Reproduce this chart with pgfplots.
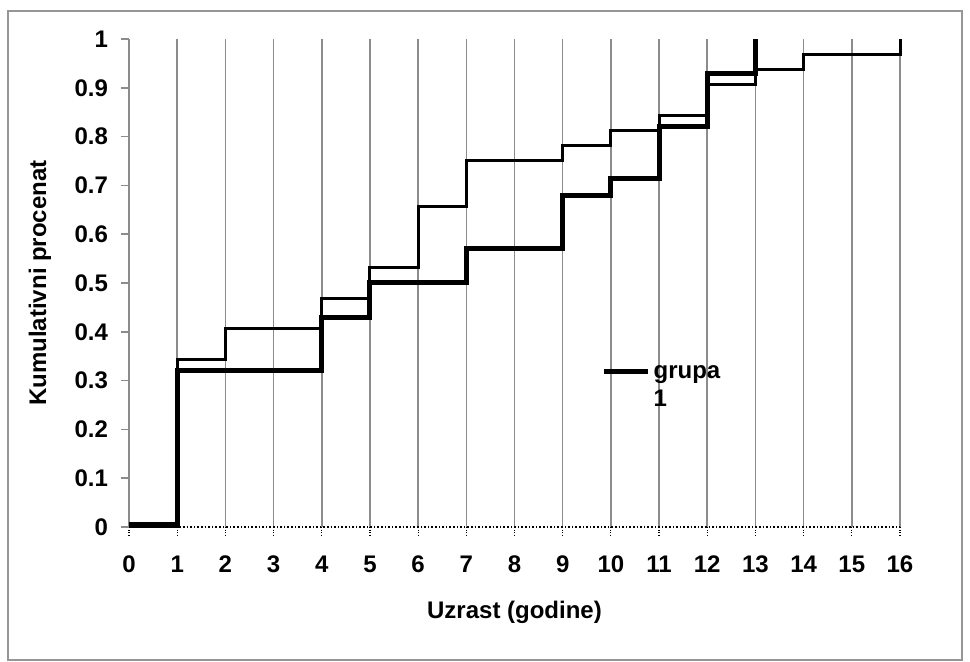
\documentclass[border=0pt]{standalone}
\usepackage{fontspec}
\setmainfont{Liberation Sans}
\usepackage{pgfplots}
\pgfplotsset{compat=1.18}
\usetikzlibrary{calc}
\definecolor{gridgray}{RGB}{140,140,140}
\definecolor{framegray}{RGB}{150,150,150}

\begin{document}
\begin{tikzpicture}
\begin{axis}[
name=ax,
scale only axis,
width=385.5pt, height=244pt,
xmin=0, xmax=16, ymin=0, ymax=1,
xtick={0,...,16}, ytick={0,0.1,...,1},
axis x line=bottom, axis y line=left,
axis line style={-},
x axis line style={black, densely dotted, line width=0.8pt},
y axis line style={gridgray, line width=0.8pt},
tick align=outside, major tick length=4pt,
xtick style={black, densely dotted, line width=0.6pt},
ytick style={gridgray, line width=0.8pt},
xmajorgrids, major grid style={gridgray, line width=0.8pt},
clip=false,
/pgf/number format/assume math mode=true,
ticklabel style={font=\fontsize{12}{14}\selectfont\bfseries},
xticklabel style={yshift=-7pt},
yticklabel style={xshift=-3pt},
label style={font=\fontsize{12}{14}\selectfont\bfseries},
xlabel={Uzrast (godine)},
ylabel={Kumulativni procenat},
xlabel style={at={(axis description cs:0.5,-0.174)}, anchor=center},
ylabel style={at={(axis description cs:-0.1154,0.5)}, anchor=center, rotate=0},
legend style={draw=none, fill=none, at={(axis cs:9.8,0.348)}, anchor=north west,
  font=\fontsize{12}{13}\selectfont\bfseries, row sep=0pt, inner sep=0pt,
  nodes={inner sep=1.5pt}},
legend cell align=left,
legend image code/.code={\draw[#1] (0pt,0pt) -- (22pt,0pt);},
]
% grupa 2 (tanka linija)
\addplot[const plot, black, line width=1.5pt, forget plot] coordinates {
(0,0) (1,0.34375) (2,0.40625) (4,0.46875) (5,0.53125) (6,0.65625) (7,0.75)
(9,0.78125) (10,0.8125) (11,0.84375) (12,0.90625) (13,0.9375) (14,0.96875) (16,1.0)};
% grupa 1 (debela linija)
\addplot[const plot, black, line width=2.5pt] coordinates {
(0,0.005) (1,0.3214) (4,0.4286) (5,0.5) (7,0.5714) (9,0.6786) (10,0.7143)
(11,0.8214) (12,0.9286) (13,1.0)};
\addlegendentry{\begin{tabular}[t]{@{}l@{}}grupa\\[1pt]1\end{tabular}}
\end{axis}
\draw[framegray, line width=0.75pt] ($(ax.south west)+(-60.5pt,-66.5pt)$) rectangle ($(ax.north east)+(31pt,14pt)$);
\path ($(ax.south west)+(-64.5pt,-67.5pt)$) rectangle ($(ax.north east)+(35pt,19.5pt)$);
\end{tikzpicture}
\end{document}
